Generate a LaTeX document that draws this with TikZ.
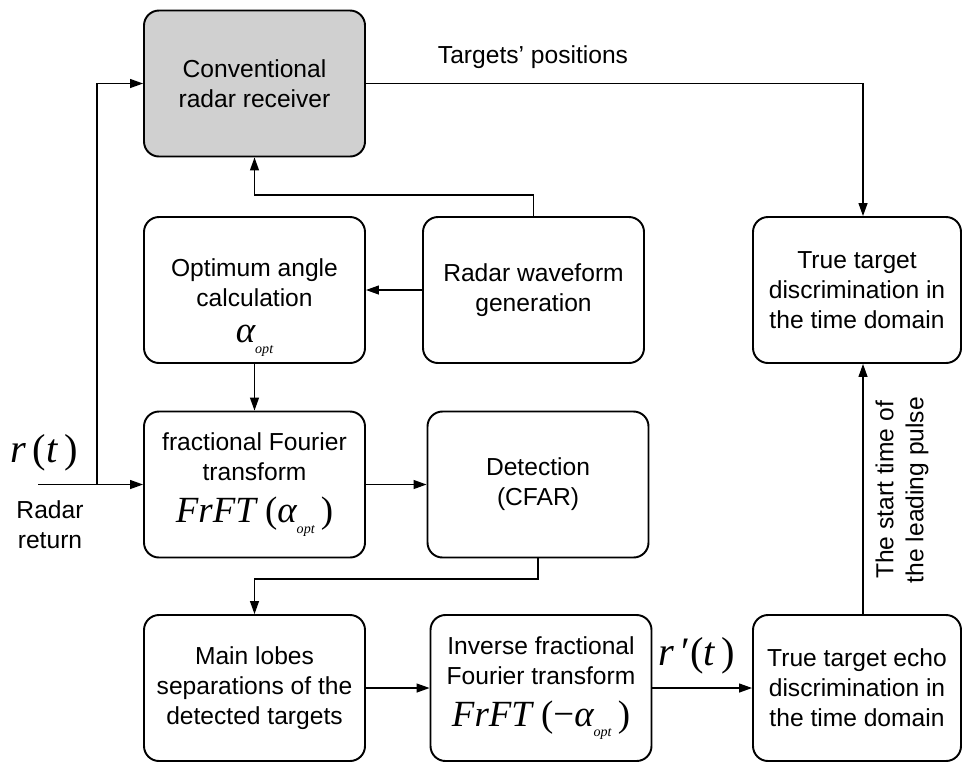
\documentclass[tikz,border=0pt]{standalone}
\usepackage{fontspec}
\setmainfont{Liberation Sans}
\newfontfamily\serifmath{Liberation Serif}
\usetikzlibrary{arrows.meta, positioning}
\definecolor{rxgray}{RGB}{208,208,208}
\newcommand{\mv}[1]{{\serifmath\itshape #1}}
\newcommand{\bigexpr}[1]{{\fontsize{21}{22}\selectfont\serifmath #1}}
\newcommand{\aopt}{\mv{α}\raisebox{-6pt}{\fontsize{8}{8}\selectfont\serifmath\itshape opt}}

\begin{document}
\begin{tikzpicture}[
  blk/.style={draw, line width=1.1pt, rounded corners=0.3cm, minimum width=4.42cm,
    minimum height=2.92cm, align=center, inner sep=2pt, font=\fontsize{14}{17}\selectfont},
  lnk/.style={line width=0.7pt, -{Triangle[length=2.6mm, width=1.8mm]}},
  lbl/.style={font=\fontsize{14}{17}\selectfont, align=center}
]
  \useasboundingbox (0,0) rectangle (19.26,-15.26);

  % Blocks
  \node[blk, fill=rxgray] (rx) at (5.09,-1.67) {Conventional\\radar receiver};
  \node[blk] (opt) at (5.09,-5.80) {\rule{0pt}{30pt}Optimum angle\\calculation\\[4pt]\bigexpr{\aopt}};
  \node[blk] (wave) at (10.67,-5.80) {Radar waveform\\generation};
  \node[blk, minimum width=4.16cm] (disc) at (17.14,-5.80) {True target\\discrimination in\\the time domain};
  \node[blk] (frft) at (5.09,-9.69) {fractional Fourier\\transform\\[7pt]\bigexpr{\mv{FrFT} (\aopt\,)}};
  \node[blk] (det) at (10.76,-9.69) {Detection\\(CFAR)};
  \node[blk] (lobes) at (5.09,-13.76) {Main lobes\\separations of the\\detected targets};
  \node[blk] (ifrft) at (10.82,-13.76) {Inverse fractional\\Fourier transform\\[7pt]\bigexpr{\mv{FrFT} (\textminus\aopt\,)}};
  \node[blk, minimum width=4.16cm] (echo) at (17.14,-13.76) {True target echo\\discrimination in\\the time domain};

  % Radar return input
  \coordinate (in) at (0.76,-9.69);
  \coordinate (split) at (1.94,-9.69);
  \node[font=\fontsize{23}{25}\selectfont\serifmath] (rt) at (0.88,-9.06) {\mv{r\,}(\mv{t\,})};
  \node[lbl] (ret) at (1.0,-10.5) {Radar\\return};
  \draw[lnk] (in) -- (frft);
  \draw[lnk] (split) |- (rx);

  % Connectors
  \node[lbl] (tpos) at (10.66,-1.14) {Targets’ positions};
  \draw[lnk] (rx) -| ([xshift=0.12cm]disc.north);
  \draw[lnk] (wave.north) -- ++(0,0.42) -| (rx);
  \draw[lnk] (wave) -- (opt);
  \draw[lnk] (opt) -- (frft);
  \draw[lnk] (frft) -- (det);
  \draw[lnk] (det.south) -- ++(0,-0.41) -| (lobes);
  \draw[lnk] (lobes) -- (ifrft);
  \draw[lnk] (ifrft) -- (echo);
  \node[font=\fontsize{23}{25}\selectfont\serifmath] (rpt) at (13.94,-13.12) {\mv{r\,}′(\mv{t\,})};
  \draw[lnk] ([xshift=0.12cm]echo.north) -- ([xshift=0.12cm]disc.south);
  \node[lbl, rotate=90] (pulse) at (18.04,-9.8) {The start time of\\the leading pulse};
\end{tikzpicture}
\end{document}
